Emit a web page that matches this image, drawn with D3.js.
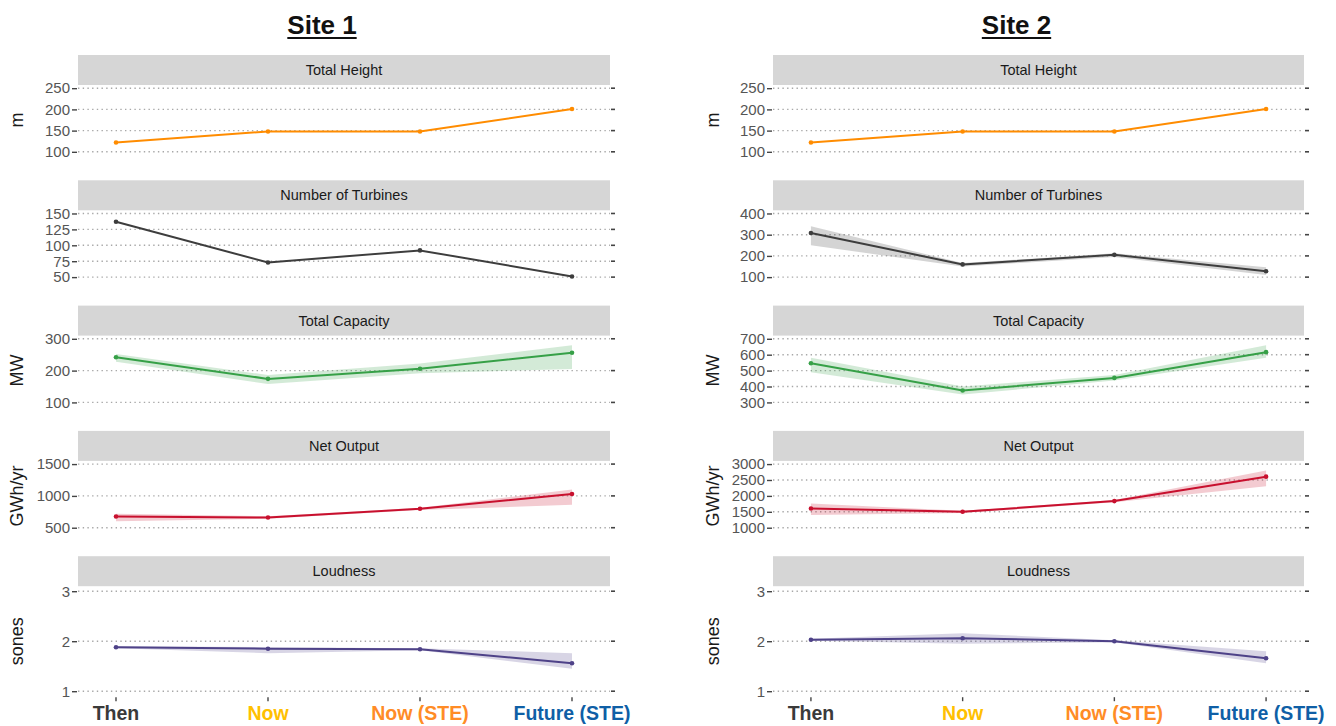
<!DOCTYPE html>
<html lang="en">
<head>
  <meta charset="UTF-8">
  <title>Site 1 / Site 2</title>
  <style>
    body, html {
      margin: 0;
      padding: 0;
      background: #fff;
    }
    #svg {
      display: block;
      font-family: "Liberation Sans", Arial, sans-serif;
    }
  </style>
</head>
<body>
  <svg id="svg" width="1336" height="726"></svg>
  <script src="https://d3js.org/d3.v7.min.js"></script>
  <script>
    // categories along the x axis and their label colours
    const categories = ['Then', 'Now', 'Now (STE)', 'Future (STE)']
    const categoryColors = ['#3a3a3a', '#ffc000', '#ff8c26', '#0f5fa6']

    const panelTitles = ['Total Height', 'Number of Turbines', 'Total Capacity', 'Net Output', 'Loudness']
    const units = ['m', '', 'MW', 'GWh/yr', 'sones']
    const lineColors = ['#ff8c00', '#3d3d3d', '#36a047', '#c8102e', '#4e4288']

    // Site 1 values (mean, lower, upper)
    const s1Height = [122, 148, 148, 201]
    const s1HeightLo = [122, 148, 148, 201]
    const s1HeightHi = [122, 148, 148, 201]
    const s1Turbines = [137, 73, 92, 51]
    const s1TurbinesLo = [137, 73, 92, 51]
    const s1TurbinesHi = [137, 73, 92, 51]
    const s1Capacity = [242, 174, 206, 256]
    const s1CapacityLo = [228, 158, 192, 205]
    const s1CapacityHi = [252, 186, 222, 280]
    const s1Output = [677, 661, 797, 1031]
    const s1OutputLo = [600, 640, 780, 860]
    const s1OutputHi = [720, 680, 812, 1100]
    const s1Loud = [1.88, 1.85, 1.84, 1.56]
    const s1LoudLo = [1.86, 1.76, 1.82, 1.45]
    const s1LoudHi = [1.9, 1.88, 1.86, 1.76]

    // Site 2 values
    const s2Height = [122, 148, 148, 201]
    const s2HeightLo = [122, 148, 148, 201]
    const s2HeightHi = [122, 148, 148, 201]
    const s2Turbines = [308, 160, 205, 128]
    const s2TurbinesLo = [250, 150, 195, 110]
    const s2TurbinesHi = [340, 166, 212, 146]
    const s2Capacity = [546, 375, 454, 616]
    const s2CapacityLo = [490, 350, 437, 580]
    const s2CapacityHi = [580, 400, 473, 660]
    const s2Output = [1605, 1500, 1837, 2605]
    const s2OutputLo = [1400, 1460, 1800, 2300]
    const s2OutputHi = [1760, 1530, 1870, 2800]
    const s2Loud = [2.03, 2.06, 2.0, 1.66]
    const s2LoudLo = [2.01, 1.95, 1.98, 1.56]
    const s2LoudHi = [2.05, 2.16, 2.02, 1.8]

    // y tick labels per panel
    const s1Ticks = [[100, 150, 200, 250], [50, 75, 100, 125, 150], [100, 200, 300], [500, 1000, 1500], [1, 2, 3]]
    const s2Ticks = [[100, 150, 200, 250], [100, 200, 300, 400], [300, 400, 500, 600, 700], [1000, 1500, 2000, 2500, 3000], [1, 2, 3]]

    const sites = [
      {
        title: 'Site 1', left: 78, right: 610, titleX: 17,
        mean: [s1Height, s1Turbines, s1Capacity, s1Output, s1Loud],
        lo: [s1HeightLo, s1TurbinesLo, s1CapacityLo, s1OutputLo, s1LoudLo],
        hi: [s1HeightHi, s1TurbinesHi, s1CapacityHi, s1OutputHi, s1LoudHi],
        ticks: s1Ticks
      },
      {
        title: 'Site 2', left: 773, right: 1304, titleX: 713,
        mean: [s2Height, s2Turbines, s2Capacity, s2Output, s2Loud],
        lo: [s2HeightLo, s2TurbinesLo, s2CapacityLo, s2OutputLo, s2LoudLo],
        hi: [s2HeightHi, s2TurbinesHi, s2CapacityHi, s2OutputHi, s2LoudHi],
        ticks: s2Ticks
      }
    ]

    const svg = d3.select('#svg')
    const stripH = 30
    const firstStrip = 55
    const pitch = 125.3

    sites.forEach(site => {
      const g = svg.append('g')

      const x = d3.scalePoint()
        .domain(categories)
        .range([site.left, site.right])
        .padding(0.25)

      // site title, underlined
      const cx = (site.left + site.right) / 2 - 22
      const title = g.append('text')
        .attr('x', cx)
        .attr('y', 34)
        .attr('text-anchor', 'middle')
        .attr('font-size', 26)
        .attr('font-weight', 'bold')
        .attr('fill', '#111')
        .text(site.title)
      const tw = title.node().getComputedTextLength()
      g.append('line')
        .attr('x1', cx - tw / 2).attr('x2', cx + tw / 2)
        .attr('y1', 38).attr('y2', 38)
        .attr('stroke', '#111').attr('stroke-width', 2)

      panelTitles.forEach((name, i) => {
        const stripTop = firstStrip + i * pitch
        const top = stripTop + stripH
        const h = i === panelTitles.length - 1 ? 110 : 70
        const bottom = top + h
        const ticks = site.ticks[i]
        const pad = h * 0.05 / 1.1

        const y = d3.scaleLinear()
          .domain([d3.min(ticks), d3.max(ticks)])
          .range([bottom - pad, top + pad])

        // strip
        g.append('rect')
          .attr('x', site.left).attr('y', stripTop)
          .attr('width', site.right - site.left).attr('height', stripH)
          .attr('fill', '#d6d6d6')
        g.append('text')
          .attr('x', (site.left + site.right) / 2)
          .attr('y', stripTop + stripH / 2)
          .attr('dy', '0.35em')
          .attr('text-anchor', 'middle')
          .attr('font-size', 14.5)
          .attr('fill', '#1a1a1a')
          .text(name)

        // dotted grid lines
        g.selectAll(null)
          .data(ticks)
          .join('line')
          .attr('x1', site.left).attr('x2', site.right)
          .attr('y1', d => y(d)).attr('y2', d => y(d))
          .attr('stroke', '#a8a8a8')
          .attr('stroke-width', 1.4)
          .attr('stroke-dasharray', '1.4,3.3')

        // right-hand small marks
        g.selectAll(null)
          .data(ticks)
          .join('line')
          .attr('x1', site.right + 1).attr('x2', site.right + 5)
          .attr('y1', d => y(d)).attr('y2', d => y(d))
          .attr('stroke', '#444')
          .attr('stroke-width', 1.6)

        // left axis
        const axis = g.append('g')
          .attr('transform', `translate(${site.left},0)`)
          .call(d3.axisLeft(y).tickValues(ticks).tickFormat(d3.format('d')).tickSize(5).tickPadding(3))
        axis.select('.domain').remove()
        axis.selectAll('.tick line').attr('stroke', '#444').attr('stroke-width', 1.4).attr('transform', 'translate(-1,0)')
        axis.selectAll('.tick text')
          .attr('font-family', '"Liberation Sans", Arial, sans-serif')
          .attr('font-size', 15)
          .attr('fill', '#555')

        // axis title
        if (units[i]) {
          g.append('text')
            .attr('transform', `translate(${site.titleX},${(top + bottom) / 2}) rotate(-90)`)
            .attr('dy', '0.35em')
            .attr('text-anchor', 'middle')
            .attr('font-size', 18)
            .attr('fill', '#1a1a1a')
            .text(units[i])
        }

        const rows = categories.map((c, k) => ({
          c: c, v: site.mean[i][k], lo: site.lo[i][k], hi: site.hi[i][k]
        }))
        const color = lineColors[i]

        // uncertainty band
        g.append('path')
          .datum(rows)
          .attr('fill', color)
          .attr('fill-opacity', 0.22)
          .attr('d', d3.area().x(d => x(d.c)).y0(d => y(d.lo)).y1(d => y(d.hi)))

        g.append('path')
          .datum(rows)
          .attr('fill', 'none')
          .attr('stroke', color)
          .attr('stroke-width', 2)
          .attr('d', d3.line().x(d => x(d.c)).y(d => y(d.v)))

        g.selectAll(null)
          .data(rows)
          .join('circle')
          .attr('cx', d => x(d.c))
          .attr('cy', d => y(d.v))
          .attr('r', 2.3)
          .attr('fill', color)

        // x axis only under the last panel
        if (i === panelTitles.length - 1) {
          g.selectAll(null)
            .data(categories)
            .join('line')
            .attr('x1', d => x(d)).attr('x2', d => x(d))
            .attr('y1', bottom + 1).attr('y2', bottom + 5)
            .attr('stroke', '#444').attr('stroke-width', 1.4)
          g.selectAll(null)
            .data(categories)
            .join('text')
            .attr('x', d => x(d))
            .attr('y', bottom + 17)
            .attr('dy', '0.35em')
            .attr('text-anchor', 'middle')
            .attr('font-size', 19.5)
            .attr('font-weight', 'bold')
            .attr('fill', (d, k) => categoryColors[k])
            .text(d => d)
        }
      })
    })
  </script>
</body>
</html>
